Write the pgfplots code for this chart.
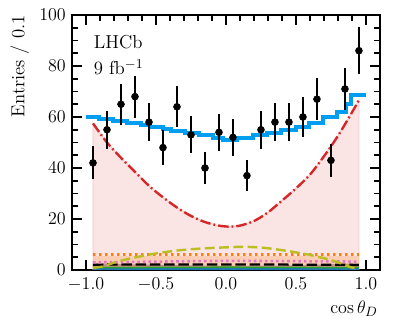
\documentclass[border=0pt]{standalone}
\usepackage{pgfplots}
\pgfplotsset{compat=1.18}
\usetikzlibrary{calc}
\definecolor{stepblue}{RGB}{0,158,240}
\definecolor{mred}{RGB}{214,39,40}
\definecolor{pinkfill}{RGB}{250,228,228}
\definecolor{pinkedge}{RGB}{244,200,200}
\definecolor{morange}{RGB}{255,127,14}
\definecolor{mgold}{RGB}{255,200,0}
\definecolor{molive}{RGB}{188,189,34}
\definecolor{mpink}{RGB}{227,119,194}
\definecolor{mgreen}{RGB}{44,160,44}
\definecolor{mbrown}{RGB}{140,86,75}
\definecolor{msteel}{RGB}{31,119,180}
\begin{document}
\begin{tikzpicture}
\begin{axis}[
  scale only axis, width=205.3pt, height=170pt,
  xmin=-1.1, xmax=1.1, ymin=0, ymax=100,
  xtick={-1,-0.5,0,0.5,1}, ytick={0,20,40,60,80,100},
  minor x tick num=4, minor y tick num=3,
  tick align=inside, xtick pos=both, ytick pos=both,
  major tick length=6.5pt, minor tick length=3.8pt,
  every major tick/.style={black, line width=1.4pt},
  every minor tick/.style={black, line width=1.1pt},
  axis line style={line width=1.6pt},
  tick label style={font=\fontsize{12.5}{15}\selectfont},
  label style={font=\fontsize{12.5}{15}\selectfont},
  xticklabel style={yshift=-2pt, /pgf/number format/fixed, /pgf/number format/fixed zerofill, /pgf/number format/precision=1},
  yticklabel style={xshift=-0.6pt},
  xlabel={$\cos\theta_D$},
  xlabel style={at={(axis description cs:0.994,-0.169)}, anchor=base east, inner sep=0pt},
  ylabel={Entries / 0.1},
  ylabel style={at={(axis description cs:-0.17,1)}, anchor=east, inner sep=0pt},
  clip=true,
]
\coordinate (SW) at (rel axis cs:0,0);
\coordinate (NE) at (rel axis cs:1,1);
% signal-like pink fill under red curve
\addplot[fill=pinkfill, draw=pinkedge, line width=0.6pt] coordinates {
(-0.95,0) (-0.95,57.5) (-0.85,50) (-0.75,44) (-0.65,38.5) (-0.55,33) (-0.45,28.5)
(-0.35,24.5) (-0.25,21.2) (-0.15,18.8) (-0.05,17.4) (0.03,17) (0.1,17.4) (0.2,19.2)
(0.3,22.6) (0.4,27.2) (0.5,32) (0.6,37.4) (0.7,44.6) (0.8,52.6) (0.9,61.8) (0.95,66.6) (0.95,0)} -- cycle;
% orange/wheat fill
\addplot[fill=morange, fill opacity=0.22, draw=none] coordinates {
(-0.95,0) (-0.95,5.6) (0.95,5.6) (0.95,0)} -- cycle;
% brown small fill
\addplot[fill=mbrown, fill opacity=0.5, draw=none] coordinates {
(-0.95,0) (-0.95,2.6) (-0.5,2.0) (0,1.6) (0.5,1.8) (0.95,2.6) (0.95,0)} -- cycle;
% red dash-dot curve
\addplot[mred, line width=1.6pt, smooth, dash pattern=on 7pt off 2pt on 1.2pt off 2pt] coordinates {
(-0.95,57.5) (-0.85,50) (-0.75,44) (-0.65,38.5) (-0.55,33) (-0.45,28.5)
(-0.35,24.5) (-0.25,21.2) (-0.15,18.8) (-0.05,17.4) (0.03,17) (0.1,17.4) (0.2,19.2)
(0.3,22.6) (0.4,27.2) (0.5,32) (0.6,37.4) (0.7,44.6) (0.8,52.6) (0.9,61.8) (0.95,66.6)};
% steel blue / green low components
\addplot[msteel, line width=1pt] coordinates {(-0.95,0.3) (0.95,0.3)};
\addplot[mgreen, line width=1pt] coordinates {(-0.95,0.9) (0,1.1) (0.95,0.9)};
% black dashed
\addplot[black, line width=1.5pt, dash pattern=on 7pt off 2.5pt] coordinates {(-0.95,2.1) (0,2.2) (0.95,2.0)};
% pink dotted
\addplot[mpink, line width=1.7pt, dash pattern=on 1.7pt off 2pt] coordinates {(-0.95,3.0) (0,3.6) (0.95,3.3)};
% orange dotted
\addplot[mgold, line width=1.9pt, dash pattern=on 1.9pt off 2.1pt] coordinates {(-0.95,6.0) (0.95,6.0)};
\addplot[morange, line width=1.9pt, dash pattern=on 1.2pt off 2.8pt] coordinates {(-0.95,6.1) (0.95,6.1)};
% olive dashed
\addplot[molive, line width=1.6pt, smooth, dash pattern=on 6.5pt off 3pt] coordinates {
(-0.95,0.8) (-0.87,1.5) (-0.8,2.9) (-0.7,4.3) (-0.56,5.9) (-0.45,6.9) (-0.32,7.8) (-0.15,8.5) (0.01,8.9)
(0.12,9.1) (0.25,8.8) (0.36,8.1) (0.48,7.1) (0.6,5.9) (0.7,4.6) (0.79,3.2) (0.88,1.3) (0.92,0.7)};
% blue step total fit
\addplot[stepblue, line width=2.6pt, const plot] coordinates {
(-1.0,60) (-0.905,59.2) (-0.81,58.4) (-0.71,57.5) (-0.61,56.7) (-0.54,56.0) (-0.45,55.2)
(-0.39,54.5) (-0.29,53.7) (-0.19,52.9) (-0.095,51.9) (-0.02,51.0) (0.08,51.8) (0.19,52.8)
(0.29,53.8) (0.39,54.9) (0.5,56.2) (0.59,57.8) (0.69,59.9) (0.79,62.1) (0.86,65.1) (0.89,68.6) (1.0,68.6)};
% data
\addplot[black, only marks, mark=*, mark size=2.3pt,
  error bars/.cd, y dir=both, y explicit, error mark=none,
  error bar style={line width=1.5pt, black}] coordinates {
(-0.95,42) +- (0,6.5)
(-0.85,55) +- (0,7.4)
(-0.75,65) +- (0,8.1)
(-0.65,68) +- (0,8.2)
(-0.55,58) +- (0,7.6)
(-0.45,48) +- (0,6.9)
(-0.35,64) +- (0,8.0)
(-0.25,53) +- (0,7.3)
(-0.15,40) +- (0,6.3)
(-0.05,54) +- (0,7.3)
(0.05,52) +- (0,7.2)
(0.15,37) +- (0,6.1)
(0.25,55) +- (0,7.4)
(0.35,58) +- (0,7.6)
(0.45,58) +- (0,7.6)
(0.55,60) +- (0,7.7)
(0.65,67) +- (0,8.2)
(0.75,43) +- (0,6.6)
(0.85,71) +- (0,8.4)
(0.95,86) +- (0,9.3)
};
\node[anchor=base west, inner sep=0pt, font=\fontsize{12.5}{15}\selectfont] at (rel axis cs:0.07,0.867) {LHCb};
\node[anchor=base west, inner sep=0pt, font=\fontsize{12.5}{15}\selectfont] at (rel axis cs:0.07,0.765) {9 fb$^{-1}$};
\end{axis}
\pgfresetboundingbox
\path ($(SW)+(-48pt,-34.7pt)$) rectangle ($(NE)+(12.7pt,10pt)$);
\end{tikzpicture}
\end{document}
